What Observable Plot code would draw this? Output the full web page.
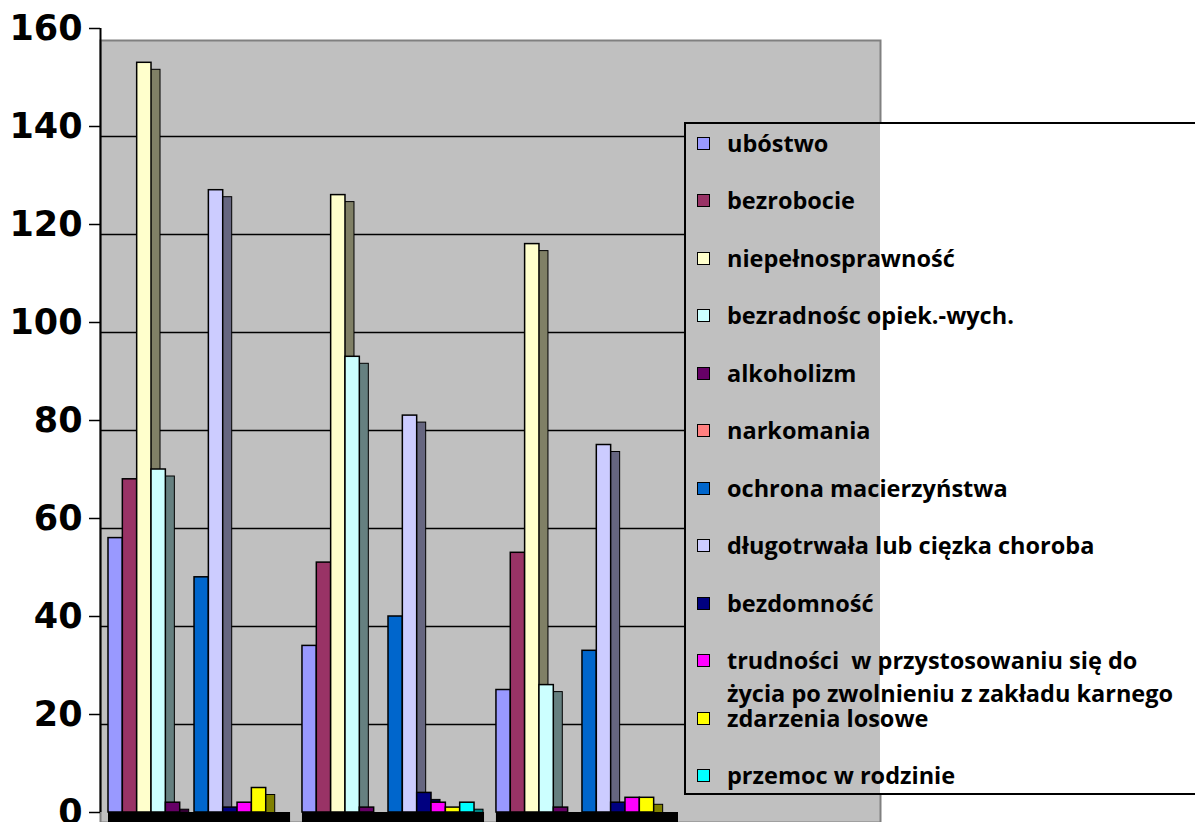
<!DOCTYPE html>
<html>
<head>
<meta charset="utf-8">
<script src="https://cdn.jsdelivr.net/npm/d3@7"></script>
<script src="https://cdn.jsdelivr.net/npm/@observablehq/plot@0.6"></script>
<style>
  html, body { margin: 0; padding: 0; background: #fff; }
  #wrap { position: relative; width: 1195px; height: 822px; overflow: hidden; }
  #chart svg { display: block; }
  #legend {
    position: absolute; left: 684px; top: 122px; width: 520px; height: 673px;
    box-sizing: border-box; border: 2px solid #000; border-right: none;
    background: linear-gradient(to right, #c0c0c0 194px, #ffffff 194px);
    font-family: "Open Sans", sans-serif; font-weight: bold; font-size: 23.5px; color: #000;
  }
  .item { position: absolute; left: 0; height: 33px; }
  .sw { position: absolute; left: 11px; top: 10px; width: 11px; height: 11px; border: 1px solid #000; }
  .lab { position: absolute; left: 41px; top: 0; width: 520px; line-height: 33px; white-space: pre; }
</style>
</head>
<body>
<div id="wrap">
  <div id="chart"></div>
  <div id="legend"></div>
</div>
<script>
// ---- data ----
const groups = ["grupa 1", "grupa 2", "grupa 3"];
const series = [
  "ubóstwo",
  "bezrobocie",
  "niepełnosprawność",
  "bezradnośc opiek.-wych.",
  "alkoholizm",
  "narkomania",
  "ochrona macierzyństwa",
  "długotrwała lub cięzka choroba",
  "bezdomność",
  "trudności  w przystosowaniu się do\nżycia po zwolnieniu z zakładu karnego",
  "zdarzenia losowe",
  "przemoc w rodzinie"
];
const group1 = [56, 68, 153, 70, 2, 0, 48, 127, 1, 2, 5, 0];
const group2 = [34, 51, 126, 93, 1, 0, 40, 81, 4, 2, 1, 2];
const group3 = [25, 53, 116, 26, 1, 0, 33, 75, 2, 3, 3, 0];
const colors = ["#9999FF", "#993366", "#FFFFCC", "#CCFFFF", "#660066", "#FF8080",
                "#0066CC", "#CCCCFF", "#000080", "#FF00FF", "#FFFF00", "#00FFFF"];
const yTicks = [0, 20, 40, 60, 80, 100, 120, 140, 160];

// ---- build table ----
const byGroup = [group1, group2, group3];
const table = [];
groups.forEach((g, gi) => series.forEach((s, si) => table.push({group: g, series: s, si, value: byGroup[gi][si]})));
const sideColors = colors.map(c => { const k = d3.rgb(c); return d3.rgb(k.r / 2, k.g / 2, k.b / 2).formatHex(); });

const xRange = [97, 679], padIn = 0.113, padOut = 0.0567;
const bw = d3.scaleBand().domain(groups).range(xRange).paddingInner(padIn).paddingOuter(padOut).bandwidth();
const w = bw / series.length;

const marks = [
  Plot.frame({fill: "#c0c0c0", stroke: "#808080", strokeWidth: 2}),
  Plot.ruleY(yTicks.filter(t => t > 0 && t < 160), {dy: 10, stroke: "#000", strokeWidth: 1.5}),
  Plot.axisY({ticks: yTicks, tickSize: 11, tickPadding: 7, fontSize: 35, fontWeight: "bold", label: null,
              fontFamily: "DejaVu Sans", tickFormat: d => String(d), stroke: "#000", strokeWidth: 1.5}),
  // front vertical axis line (frame centre is at x=490, shifted to x=100)
  Plot.ruleX([0], {x: null, y1: 0, y2: 160, dx: -390, stroke: "#000", strokeWidth: 2})
];
series.forEach((s, i) => {
  const rows = table.filter(d => d.si === i);
  const common = {x: "group", y: "value", insetLeft: i * w, insetRight: (series.length - 1 - i) * w};
  marks.push(Plot.barY(rows, {...common, fill: sideColors[i], stroke: "#000", strokeWidth: 1, dx: 9, dy: 7}));
  marks.push(Plot.barY(rows, {...common, fill: colors[i], stroke: "#000", strokeWidth: 1.5}));
});
marks.push(Plot.barY(groups, {x: d => d, y1: 0, y2: 0, insetBottom: -12, insetRight: -10, fill: "#000"}));

const chart = Plot.plot({
  width: 1195, height: 822,
  marginLeft: 100, marginRight: 315, marginTop: 40, marginBottom: 0,
  style: {background: "transparent", overflow: "visible"},
  x: {domain: groups, range: xRange, paddingInner: padIn, paddingOuter: padOut, round: false, axis: null},
  y: {domain: [0, 160], range: [812, 28], axis: null, label: null},
  marks
});
document.getElementById("chart").appendChild(chart);

// legend
const legend = document.getElementById("legend");
series.forEach((s, i) => {
  const cy = 143 + 57.5 * i - 124;
  const item = document.createElement("div");
  item.className = "item";
  item.style.top = (cy - 16.5) + "px";
  item.innerHTML = `<div class="sw" style="background:${colors[i]}"></div><div class="lab"></div>`;
  item.querySelector(".lab").textContent = s;
  legend.appendChild(item);
});
</script>
</body>
</html>
